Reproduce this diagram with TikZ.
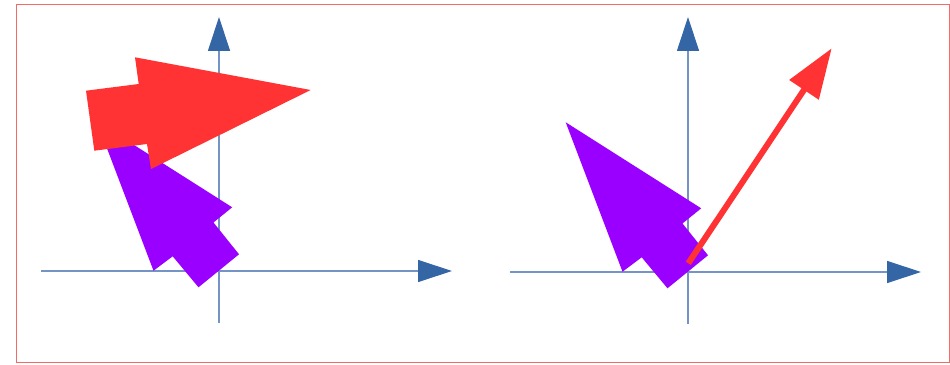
\documentclass[tikz,border=0pt]{standalone}
\usepackage{tikz}
\usepackage{xcolor}
\usetikzlibrary{arrows.meta}

\begin{document}
\begin{tikzpicture}[x=1pt,y=1pt]

	% ============================================================
	% COLORS
	% ============================================================
	\definecolor{frameStroke}{HTML}{F26B6B}
	\definecolor{axisStroke}{HTML}{7394C4}
	\definecolor{axisHead}{HTML}{3465A4}
	\definecolor{origFill}{HTML}{9900FF}
	\definecolor{imageFill}{HTML}{FF3333}

	% ============================================================
	% STYLES
	% ============================================================
	\tikzset{
		frame/.style={draw=frameStroke, line width=0.9pt},
		axisArr/.style={draw=axisStroke, line width=1.2pt,
			-{Triangle[length=34pt,width=22pt,color=axisHead]}},
		origArrow/.style={fill=origFill, draw=none},
		imageArrow/.style={fill=imageFill, draw=none},
		vecArr/.style={draw=imageFill, line width=6pt,
			-{Triangle[length=50pt,width=34pt]}}
	}

	% ============================================================
	% CANVAS - 950x364, origins at (219,93) and (688,92)
	% ============================================================
	\useasboundingbox (0,0) rectangle (950,364);
	\draw[frame] (16,2) rectangle (949,360);

	% ============================================================
	% LEFT PANEL
	% ============================================================
	\begin{scope}[shift={(219,93)}]
		\coordinate (lo) at (0,0);
		\draw[axisArr] (-178,0) -- (233,0);
		\draw[axisArr] (0,-52) -- (0,254);

		% original arrow
		\fill[origArrow] (-122.3,149.7) -- (13.2,63.7) -- (-5.5,48.5) -- (20,16.7)
			-- (-20.5,-16.3) -- (-46.3,14.7) -- (-65.5,0.3) -- cycle;

		% transformed arrow
		\fill[imageArrow] (-133,180.3) -- (-124.7,120.3) -- (-72,127) -- (-68,102)
			-- (91.7,181) -- (-84,213.7) -- (-80.3,187) -- cycle;
	\end{scope}

	% ============================================================
	% RIGHT PANEL
	% ============================================================
	\begin{scope}[shift={(688,92)}]
		\coordinate (ro) at (0,0);
		\draw[axisArr] (-178,0) -- (233,0);
		\draw[axisArr] (0,-52) -- (0,255);

		% original arrow
		\fill[origArrow] (-122.3,149.7) -- (13.2,63.7) -- (-5.5,48.5) -- (20,16.7)
			-- (-20.5,-16.3) -- (-46.3,14.7) -- (-65.5,0.3) -- cycle;

		% vector
		\coordinate (vs) at (0.3,8.7);
		\coordinate (ve) at (143.7,223.7);
		\draw[vecArr] (vs) -- (ve);
	\end{scope}

\end{tikzpicture}
\end{document}
